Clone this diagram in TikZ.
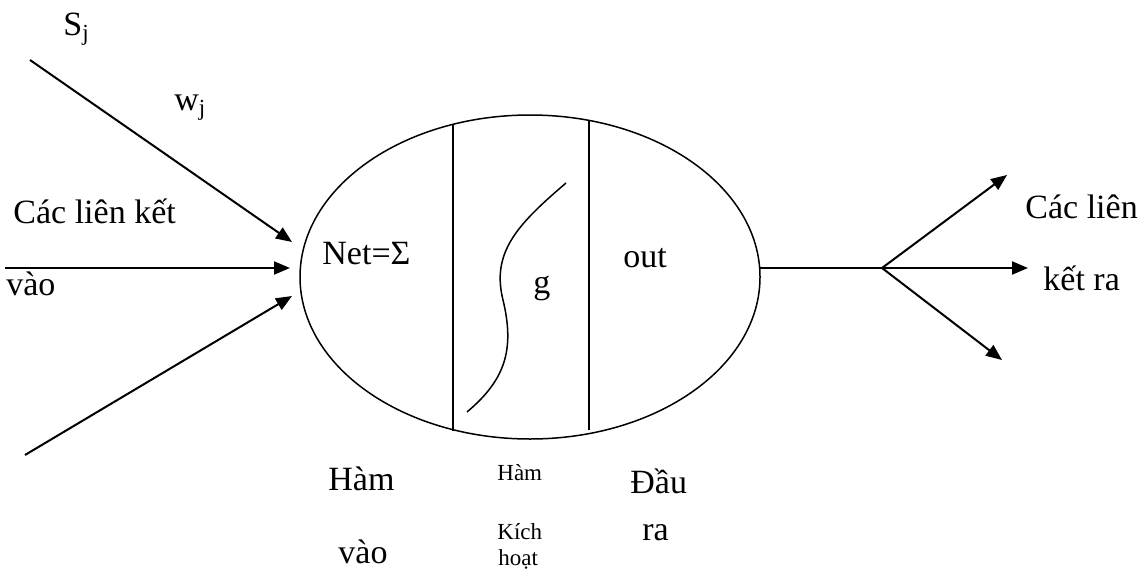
\documentclass[tikz,border=0pt]{standalone}
\usepackage{fontspec}
\setmainfont{Liberation Serif}
\usetikzlibrary{shapes.geometric,arrows.meta}
\begin{document}
\begin{tikzpicture}[x=0.5pt,y=-0.5pt,
  lbl/.style={anchor=base west,inner sep=0pt,font=\fontsize{17}{20}\selectfont},
  smalllbl/.style={anchor=base west,inner sep=0pt,font=\fontsize{11.5}{13}\selectfont},
  conn/.style={line width=1pt,-{Triangle[length=8pt,width=6.5pt]}},
  thin/.style={line width=0.75pt}]
\useasboundingbox (0,0) rectangle (1144,578);
% neuron body
\node[draw,thin,ellipse,inner sep=0pt,minimum width=230pt,minimum height=162pt] (cell) at (530,277) {};
\draw[thin] (453,124) -- (453,431);
\draw[thin] (589,121) -- (589,430);
\draw[thin] (467,412) .. controls (505,380) and (515,350) .. (503,300)
                      .. controls (491,252) and (518,224) .. (566,183);
\node[lbl] (net) at (322,264) {Net=Σ};
\node[lbl] (g) at (533,293) {g};
\node[lbl] (out) at (623,267) {out};
% inputs
\coordinate (i1s) at (30,60);
\coordinate (i1e) at (292,242);
\coordinate (i2s) at (5,268);
\coordinate (i2e) at (290,268);
\coordinate (i3s) at (25,455);
\coordinate (i3e) at (292,296);
\draw[conn] (i1s) -- (i1e);
\draw[conn] (i2s) -- (i2e);
\draw[conn] (i3s) -- (i3e);
\node[lbl] (sj) at (63,35) {S\raisebox{-0.35ex}{\fontsize{11.5}{13}\selectfont j}};
\node[lbl] (wj) at (174,110) {w\raisebox{-0.35ex}{\fontsize{11.5}{13}\selectfont j}};
\node[lbl] (inA) at (13,223) {Các liên kết};
\node[lbl] (inB) at (6,295) {vào};
% outputs
\coordinate (o0) at (759,268);
\coordinate (oj) at (882,268);
\coordinate (o1) at (1007,175);
\coordinate (o2) at (1028,268);
\coordinate (o3) at (1002,360);
\draw[line width=1pt] (o0) -- (oj);
\draw[conn] (oj) -- (o1);
\draw[conn] (oj) -- (o2);
\draw[conn] (oj) -- (o3);
\node[lbl] (outA) at (1025,218) {Các liên};
\node[lbl] (outB) at (1043,290) {kết ra};
% bottom labels
\node[lbl] (h1) at (328,490) {Hàm};
\node[lbl] (h2) at (338,563) {vào};
\node[smalllbl] (k1) at (497,480) {Hàm};
\node[smalllbl] (k2) at (497,539) {Kích};
\node[smalllbl] (k3) at (498,565) {hoạt};
\node[lbl] (d1) at (630,493) {Đầu};
\node[lbl] (d2) at (642,540) {ra};
\end{tikzpicture}
\end{document}
